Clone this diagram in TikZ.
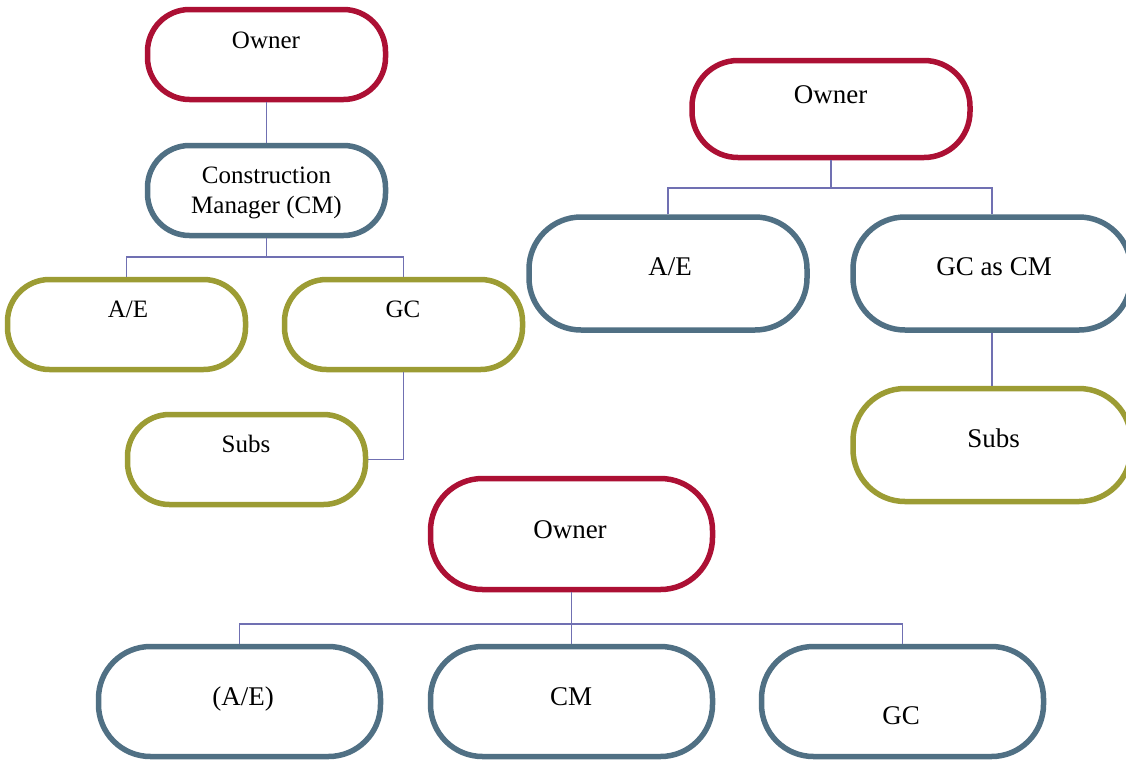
\documentclass[tikz,border=0pt]{standalone}
\usepackage{fontspec}
\setmainfont{Liberation Serif}
\definecolor{ownred}{RGB}{172,16,52}
\definecolor{mgrblue}{RGB}{80,112,132}
\definecolor{subolive}{RGB}{156,156,52}
\definecolor{linkc}{RGB}{112,112,178}
\begin{document}
\begin{tikzpicture}[x=1pt,y=-1pt,
  box/.style={draw, fill=white, line width=5.5pt, inner sep=0pt},
  smallbox/.style={box, rounded corners=42pt, minimum width=238pt, minimum height=90pt},
  bigbox/.style={box, rounded corners=52pt, minimum width=278pt, minimum height=113pt},
  redbox/.style={draw=ownred},
  bluebox/.style={draw=mgrblue},
  olivebox/.style={draw=subolive},
  txta/.style={anchor=base, inner sep=0pt, font=\fontsize{25}{30}\selectfont},
  txtb/.style={anchor=base, inner sep=0pt, font=\fontsize{27}{32}\selectfont},
  link/.style={draw=linkc, line width=1.2pt}
]
\useasboundingbox (0,0) rectangle (1126,761);
\fill[white] (0,0) rectangle (1126,761);

% ---- top-left group ----
\node[smallbox, redbox]   (b1) at (266.5,54.5) {};
\node[smallbox, bluebox]  (b2) at (266.5,190.5) {};
\node[smallbox, olivebox] (b3) at (126.5,324.5) {};
\node[smallbox, olivebox] (b4) at (403.5,324.5) {};
\node[smallbox, olivebox] (b5) at (246.5,459.5) {};

\node[txta] (t1) at (266,48) {Owner};
\node[anchor=center, inner sep=0pt, align=center, font=\fontsize{25}{30}\selectfont] (t2) at (266.5,193) {Construction\\Manager (CM)};
\node[txta] (t3) at (128,317) {A/E};
\node[txta] (t4) at (403,317) {GC};
\node[txta] (t5) at (246,452) {Subs};

\coordinate (j1) at (266.5,257);
\draw[link] (b1.south) -- (b2.north);
\draw[link] (b2.south) -- (j1);
\draw[link] (b3.north) |- (j1) -| (b4.north);
\draw[link] (b4.south) |- (b5.east);

% ---- top-right group ----
\node[bigbox, redbox, minimum height=97pt, rounded corners=46pt] (b6) at (831,109) {};
\node[bigbox, bluebox]  (b7) at (668,273.5) {};
\node[bigbox, bluebox]  (b8) at (992,273.5) {};
\node[bigbox, olivebox] (b9) at (992,445) {};

\node[txtb] (t6) at (830.5,103) {Owner};
\node[txtb] (t7) at (670,275) {A/E};
\node[txtb] (t8) at (994,275) {GC as CM};
\node[txtb] (t9) at (993.5,447) {Subs};

\coordinate (j2) at (831,188);
\draw[link] (b6.south) -- (j2);
\draw[link] (b7.north) |- (j2) -| (b8.north);
\draw[link] (b8.south) -- (b9.north);

% ---- bottom group ----
\node[bigbox, redbox, minimum width=282pt, minimum height=111pt]  (b10) at (571.5,534) {};
\node[bigbox, bluebox, minimum width=282pt, minimum height=110pt] (b11) at (239.5,701.5) {};
\node[bigbox, bluebox, minimum width=282pt, minimum height=110pt] (b12) at (571.5,701.5) {};
\node[bigbox, bluebox, minimum width=282pt, minimum height=110pt] (b13) at (902.5,701.5) {};

\node[txtb] (t10) at (570,538) {Owner};
\node[txtb] (t11) at (243,705) {(A/E)};
\node[txtb] (t12) at (571,705) {CM};
\node[txtb] (t13) at (901,724) {GC};

\coordinate (j3) at (571.5,624);
\draw[link] (b10.south) -- (b12.north);
\draw[link] (b11.north) |- (j3) -| (b13.north);
\end{tikzpicture}
\end{document}
